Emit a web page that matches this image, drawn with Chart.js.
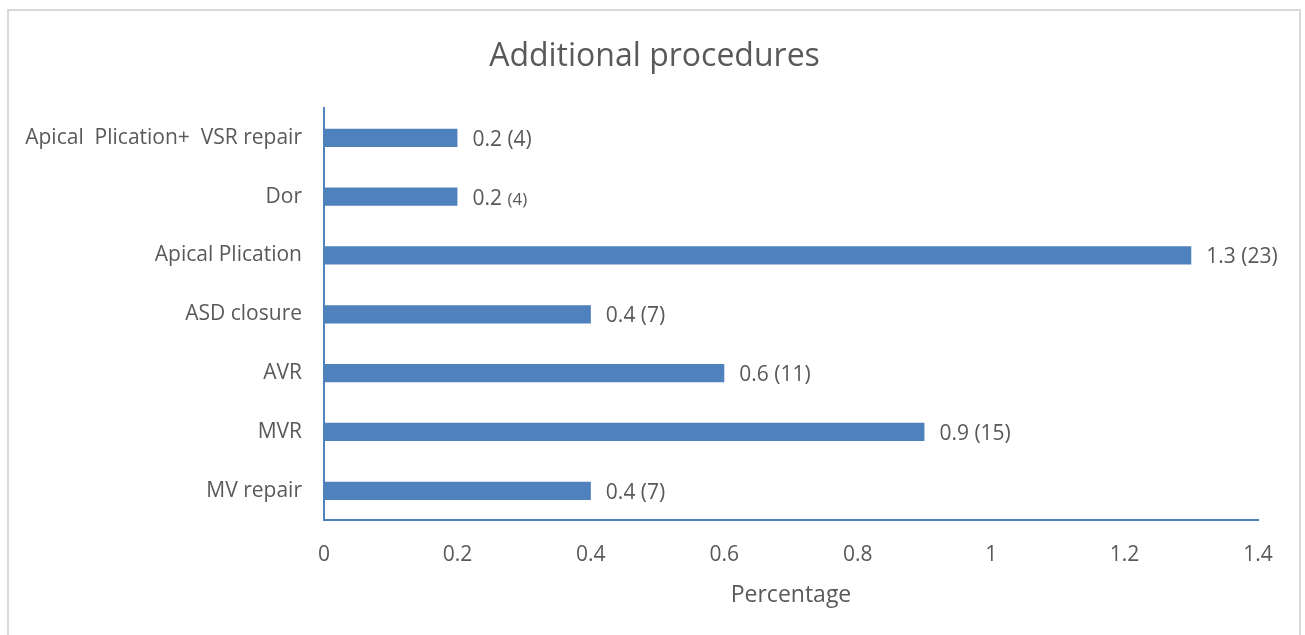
<!DOCTYPE html>
<html>
<head>
<meta charset="utf-8">
<title>Additional procedures</title>
<script src="https://cdn.jsdelivr.net/npm/chart.js@4"></script>
<style>
    body { margin: 0; background: #fff; }
    #wrap { position: relative; width: 1305px; height: 635px; overflow: hidden; }
    #frame {
        position: absolute; left: 7px; top: 9px; width: 1294px; height: 700px;
        border: 2px solid #d9d9d9; box-sizing: border-box; pointer-events: none;
    }
</style>
</head>
<body>
<div id="wrap">
    <canvas id="procChart" width="1305" height="635"></canvas>
    <div id="frame"></div>
</div>
<script>
// procedures, top to bottom
const procedures = [
    'Apical  Plication+  VSR repair',
    'Dor',
    'Apical Plication',
    'ASD closure',
    'AVR',
    'MVR',
    'MV repair'
];
const percentages = [0.2, 0.2, 1.3, 0.4, 0.6, 0.9, 0.4];
const counts = [4, 4, 23, 7, 11, 15, 7];
const xTicks = [0, 0.2, 0.4, 0.6, 0.8, 1, 1.2, 1.4];

const textColor = '#595959';
const barColor = '#4f81bd';
const fontFamily = '"Open Sans", sans-serif';
const labelSize = 21;
// the Dor count was typed in a smaller size
const countSize = i => (i === 1 ? 17 : labelSize);

// writes "value (count)" just past the end of each bar
const valueLabels = {
    id: 'valueLabels',
    afterDatasetsDraw(chart) {
        const ctx = chart.ctx;
        const meta = chart.getDatasetMeta(0);
        ctx.save();
        ctx.fillStyle = textColor;
        ctx.textAlign = 'left';
        ctx.textBaseline = 'alphabetic';
        meta.data.forEach((bar, i) => {
            const x = bar.x + 15;
            const base = bar.y + 8;
            const head = percentages[i] + ' ';
            ctx.font = labelSize + 'px ' + fontFamily;
            ctx.fillText(head, x, base);
            const w = ctx.measureText(head).width;
            ctx.font = countSize(i) + 'px ' + fontFamily;
            ctx.fillText('(' + counts[i] + ')', x + w, base);
        });
        ctx.restore();
    }
};

// center the title on the whole frame, not just the padded layout box
const centerTitle = {
    id: 'centerTitle',
    afterLayout(chart) {
        const t = chart.titleBlock;
        if (!t) return;
        t.left = 7;
        t.right = 1302;
        t.width = t.right - t.left;
    }
};

const ctx = document.getElementById('procChart').getContext('2d');
new Chart(ctx, {
    type: 'bar',
    data: {
        labels: procedures,
        datasets: [{
            label: 'Percentage',
            data: percentages,
            backgroundColor: barColor,
            barPercentage: 0.62,
            categoryPercentage: 0.5
        }]
    },
    options: {
        indexAxis: 'y',
        responsive: false,
        animation: false,
        layout: { padding: { left: 0, right: 47, top: 0, bottom: 26 } },
        plugins: {
            legend: { display: false },
            tooltip: { enabled: false },
            title: {
                display: true,
                text: 'Additional procedures',
                color: textColor,
                font: { family: fontFamily, size: 32, weight: 'normal' },
                padding: { top: 38, bottom: 32 }
            }
        },
        scales: {
            x: {
                min: 0,
                max: 1.4,
                afterBuildTicks(scale) {
                    scale.ticks = xTicks.map(v => ({ value: v }));
                },
                grid: { display: false, drawTicks: false },
                border: { display: true, color: barColor, width: 2 },
                ticks: {
                    color: textColor,
                    padding: 22,
                    font: { family: fontFamily, size: 21 },
                    callback: v => String(v)
                },
                title: {
                    display: true,
                    text: 'Percentage',
                    color: textColor,
                    font: { family: fontFamily, size: 23 },
                    padding: { top: -8, bottom: 0 }
                }
            },
            y: {
                afterFit(scale) { scale.width = 324; },
                grid: { display: false, drawTicks: false },
                border: { display: true, color: barColor, width: 2 },
                ticks: {
                    color: textColor,
                    padding: 22,
                    font: { family: fontFamily, size: labelSize }
                }
            }
        }
    },
    plugins: [valueLabels, centerTitle]
});
</script>
</body>
</html>
